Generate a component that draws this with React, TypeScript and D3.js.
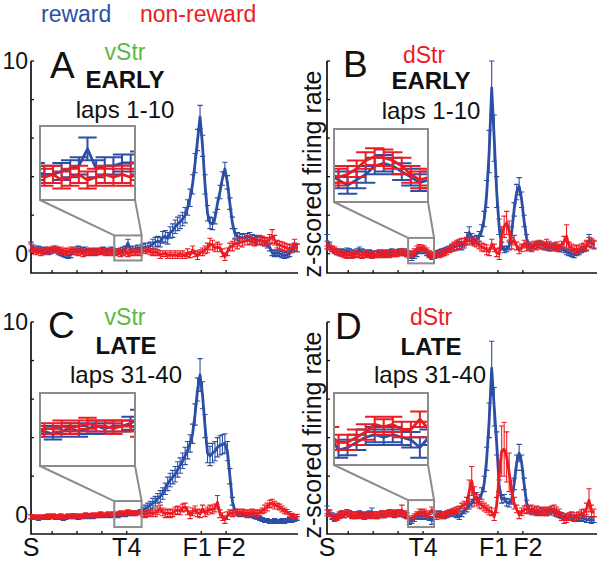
import React from 'react';
import * as d3 from 'd3';

const BLUE = '#2c4fa5';
const RED = '#ec1c24';
const GREEN = '#5ab946';
const GRAY = '#8c8c8c';
const FONT = '"Liberation Sans", Arial, Helvetica, sans-serif';

// spatial bins along the track, S ... end of lap
const nBins = 108;
const yTicks = [0, 2, 4, 6, 8, 10];
const yTickLabels = ['0', '10'];
const xTicks = [8.5, 18.5, 28.5, 38.5, 68.5, 78.5];
const xLabels = ['S', 'T4', 'F1', 'F2'];
const xLabelPos = [0, 38.5, 66.8, 80.5];
const legendLabels = ['reward', 'non-reward'];

// A: vStr, early laps 1-10
const vStrEarlyReward = [
  0.4, 0.3, 0.2, 0.25, 0.2, 0.15, 0.2, 0.1, 0.15, 0.2,
  0.25, 0.1, 0.05, 0.0, -0.05, -0.1, -0.05, 0.1, 0.2, 0.25,
  0.2, 0.15, 0.2, 0.1, 0.05, 0.1, 0.15, 0.1, 0.15, 0.2,
  0.15, 0.1, 0.2, 0.15, 0.1, 0.1, 0.15, 0.2, 0.25, 0.55,
  0.2, 0.25, 0.25, 0.3, 0.3, 0.3, 0.35, 0.35, 0.4, 0.5,
  0.6, 0.65, 0.6, 0.85, 0.9, 0.8, 1.1, 1.2, 1.4, 1.55,
  1.65, 1.8, 2.0, 2.4, 2.9, 3.6, 4.7, 5.9, 7.1, 5.6,
  3.6, 2.1, 1.6, 1.55, 1.85, 2.6, 3.2, 3.9, 4.4, 3.7,
  2.6, 1.6, 1.05, 0.9, 0.85, 0.8, 0.85, 0.85, 0.9, 0.8,
  0.75, 0.7, 0.7, 0.65, 0.6, 0.5, 0.35, 0.05, 0.0, 0.05,
  0.0, -0.05, -0.1, -0.05, 0.0, 0.2, 0.35, 0.3,
];
const vStrEarlyRewardErr = [
  0.2, 0.15, 0.15, 0.15, 0.15, 0.15, 0.15, 0.15, 0.15, 0.15,
  0.15, 0.15, 0.15, 0.15, 0.15, 0.15, 0.15, 0.15, 0.15, 0.15,
  0.15, 0.15, 0.15, 0.15, 0.15, 0.15, 0.15, 0.15, 0.15, 0.15,
  0.15, 0.15, 0.15, 0.15, 0.15, 0.15, 0.15, 0.15, 0.15, 0.2,
  0.15, 0.15, 0.15, 0.15, 0.15, 0.2, 0.2, 0.2, 0.2, 0.25,
  0.25, 0.25, 0.25, 0.3, 0.3, 0.3, 0.3, 0.35, 0.35, 0.35,
  0.35, 0.35, 0.4, 0.4, 0.45, 0.5, 0.5, 0.55, 0.6, 0.55,
  0.5, 0.4, 0.3, 0.3, 0.3, 0.3, 0.35, 0.35, 0.35, 0.35,
  0.3, 0.3, 0.25, 0.2, 0.2, 0.2, 0.2, 0.2, 0.2, 0.2,
  0.2, 0.2, 0.2, 0.2, 0.2, 0.2, 0.2, 0.15, 0.15, 0.15,
  0.15, 0.15, 0.15, 0.15, 0.15, 0.15, 0.2, 0.2,
];
const vStrEarlyNonReward = [
  0.3, 0.2, 0.1, 0.15, 0.05, 0.1, 0.15, 0.2, 0.15, 0.25,
  0.2, 0.15, 0.2, 0.1, 0.15, 0.1, 0.2, 0.15, 0.1, 0.05,
  0.1, 0.0, 0.05, 0.1, 0.15, 0.1, 0.05, 0.1, 0.15, 0.1,
  0.05, 0.1, 0.05, 0.1, 0.05, 0.1, 0.0, 0.05, 0.1, 0.0,
  0.05, 0.1, 0.05, 0.1, 0.05, 0.15, 0.15, 0.2, 0.1, 0.05,
  0.1, 0.05, -0.05, 0.0, 0.0, -0.1, -0.05, -0.1, -0.05, -0.1,
  0.0, -0.05, -0.1, 0.05, -0.05, 0.2, 0.0, -0.1, 0.05, 0.1,
  0.2, 0.3, 0.5, 0.45, 0.3, 0.35, 0.3, 0.05, -0.15, 0.1,
  0.35, 0.4, 0.55, 0.5, 0.6, 0.6, 0.65, 0.7, 0.7, 0.65,
  0.6, 0.65, 0.7, 0.7, 0.6, 0.65, 0.75, 0.9, 0.7, 0.5,
  0.45, 0.4, 0.35, 0.3, 0.25, 0.3, 0.5, 0.3,
];
const vStrEarlyNonRewardErr = [
  0.2, 0.15, 0.15, 0.15, 0.15, 0.15, 0.15, 0.15, 0.15, 0.15,
  0.15, 0.15, 0.15, 0.15, 0.15, 0.15, 0.15, 0.15, 0.15, 0.15,
  0.15, 0.15, 0.15, 0.15, 0.15, 0.15, 0.15, 0.15, 0.15, 0.15,
  0.15, 0.15, 0.15, 0.15, 0.15, 0.15, 0.15, 0.15, 0.15, 0.15,
  0.15, 0.15, 0.15, 0.15, 0.15, 0.15, 0.15, 0.15, 0.15, 0.15,
  0.15, 0.15, 0.2, 0.15, 0.15, 0.15, 0.2, 0.15, 0.2, 0.15,
  0.15, 0.2, 0.15, 0.2, 0.15, 0.2, 0.15, 0.2, 0.15, 0.2,
  0.2, 0.25, 0.3, 0.25, 0.2, 0.25, 0.2, 0.2, 0.2, 0.2,
  0.2, 0.25, 0.2, 0.25, 0.2, 0.25, 0.2, 0.25, 0.2, 0.2,
  0.2, 0.2, 0.25, 0.2, 0.2, 0.2, 0.25, 0.35, 0.25, 0.2,
  0.2, 0.2, 0.2, 0.2, 0.2, 0.2, 0.25, 0.2,
];

// B: dStr, early laps 1-10
const dStrEarlyReward = [
  0.7, 0.4, 0.25, 0.15, 0.1, 0.05, 0.1, 0.05, 0.15, 0.1,
  0.05, 0.0, 0.1, 0.2, 0.1, 0.05, 0.0, 0.05, 0.0, -0.05,
  0.0, 0.05, 0.0, -0.05, 0.0, 0.05, 0.1, 0.0, 0.05, 0.1,
  0.05, 0.1, 0.0, -0.1, -0.2, -0.1, 0.0, 0.15, 0.2, 0.15,
  0.05, -0.05, -0.15, -0.1, 0.0, 0.05, 0.1, 0.15, 0.2, 0.25,
  0.3, 0.35, 0.4, 0.45, 0.4, 0.55, 0.8, 1.1, 0.8, 0.7,
  0.75, 0.9, 1.2, 1.8, 3.1, 5.3, 8.6, 6.0, 3.2, 1.4,
  0.4, 0.2, 0.25, 0.4, 1.1, 2.3, 3.2, 3.5, 2.8, 1.7,
  0.8, 0.4, 0.3, 0.4, 0.5, 0.45, 0.5, 0.4, 0.35, 0.3,
  0.4, 0.35, 0.3, 0.25, 0.3, 0.2, 0.1, 0.05, 0.0, -0.05,
  0.05, 0.1, 0.2, 0.25, 0.4, 0.7, 0.55, 0.45,
];
const dStrEarlyRewardErr = [
  0.3, 0.2, 0.15, 0.15, 0.15, 0.15, 0.15, 0.15, 0.15, 0.15,
  0.15, 0.15, 0.15, 0.15, 0.15, 0.15, 0.15, 0.15, 0.15, 0.15,
  0.15, 0.15, 0.15, 0.15, 0.15, 0.15, 0.15, 0.15, 0.15, 0.15,
  0.15, 0.15, 0.15, 0.15, 0.15, 0.15, 0.15, 0.15, 0.15, 0.15,
  0.15, 0.15, 0.15, 0.15, 0.15, 0.15, 0.15, 0.15, 0.15, 0.15,
  0.15, 0.2, 0.2, 0.2, 0.2, 0.25, 0.3, 0.3, 0.25, 0.2,
  0.2, 0.25, 0.3, 0.4, 0.7, 1.1, 1.4, 1.2, 0.8, 0.4,
  0.2, 0.15, 0.15, 0.2, 0.3, 0.35, 0.4, 0.45, 0.4, 0.3,
  0.2, 0.15, 0.15, 0.15, 0.15, 0.15, 0.15, 0.15, 0.15, 0.15,
  0.15, 0.15, 0.15, 0.15, 0.15, 0.15, 0.15, 0.15, 0.15, 0.15,
  0.15, 0.15, 0.15, 0.15, 0.25, 0.3, 0.2, 0.2,
];
const dStrEarlyNonReward = [
  0.45, 0.35, 0.25, 0.2, 0.1, 0.05, 0.0, -0.05, -0.1, -0.05,
  -0.1, -0.05, 0.0, -0.05, -0.1, -0.05, 0.0, -0.05, -0.1, -0.05,
  0.0, -0.05, 0.0, 0.05, 0.0, -0.05, 0.0, 0.05, 0.0, 0.05,
  0.1, 0.05, 0.0, -0.05, 0.0, 0.1, 0.25, 0.32, 0.3, 0.25,
  0.15, 0.0, -0.1, -0.05, 0.0, -0.05, 0.0, 0.05, 0.1, 0.2,
  0.3, 0.4, 0.45, 0.5, 0.55, 0.6, 0.65, 0.7, 0.65, 0.6,
  0.55, 0.45, 0.35, 0.3, 0.2, 0.1, 0.5, 0.3, 0.05, 0.0,
  0.9, 1.4, 1.6, 1.2, 0.55, 0.7, 0.4, 0.2, 0.3, 0.5,
  0.35, 0.4, 0.3, 0.45, 0.4, 0.5, 0.45, 0.4, 0.55, 0.45,
  0.35, 0.35, 0.4, 0.3, 0.45, 0.6, 0.9, 0.4, 0.3, 0.2,
  0.25, 0.2, 0.3, 0.35, 0.45, 0.6, 0.55, 0.5,
];
const dStrEarlyNonRewardErr = [
  0.2, 0.15, 0.15, 0.15, 0.15, 0.15, 0.15, 0.15, 0.15, 0.15,
  0.15, 0.15, 0.15, 0.15, 0.15, 0.15, 0.15, 0.15, 0.15, 0.15,
  0.15, 0.15, 0.15, 0.15, 0.15, 0.15, 0.15, 0.15, 0.15, 0.15,
  0.15, 0.15, 0.15, 0.15, 0.15, 0.15, 0.15, 0.15, 0.15, 0.15,
  0.15, 0.15, 0.15, 0.15, 0.15, 0.15, 0.15, 0.15, 0.15, 0.15,
  0.2, 0.2, 0.25, 0.25, 0.25, 0.2, 0.2, 0.25, 0.2, 0.2,
  0.2, 0.2, 0.2, 0.2, 0.25, 0.2, 0.25, 0.2, 0.2, 0.3,
  0.5, 0.55, 0.6, 0.5, 0.3, 0.25, 0.2, 0.2, 0.2, 0.2,
  0.2, 0.2, 0.2, 0.2, 0.2, 0.2, 0.2, 0.2, 0.2, 0.2,
  0.2, 0.2, 0.2, 0.2, 0.2, 0.3, 0.6, 0.2, 0.2, 0.2,
  0.2, 0.2, 0.2, 0.2, 0.25, 0.25, 0.25, 0.2,
];

// C: vStr, late laps 31-40
const vStrLateReward = [
  -0.1, -0.15, -0.15, -0.2, -0.15, -0.15, -0.1, -0.15, -0.1, -0.1,
  -0.15, -0.1, -0.15, -0.2, -0.15, -0.1, -0.1, -0.05, -0.1, -0.15,
  -0.1, -0.1, -0.05, -0.1, -0.05, -0.1, -0.05, -0.05, 0.0, -0.05,
  -0.05, 0.0, -0.05, 0.0, 0.0, -0.05, 0.0, 0.05, 0.0, 0.05,
  0.1, 0.05, 0.1, 0.1, 0.15, 0.25, 0.3, 0.4, 0.5, 0.6,
  0.7, 0.85, 0.95, 1.1, 1.35, 1.6, 1.8, 1.95, 2.1, 2.35,
  2.55, 2.8, 3.05, 3.35, 3.7, 4.2, 5.2, 6.5, 7.25, 6.2,
  4.6, 3.2, 3.05, 3.2, 3.3, 3.5, 3.6, 3.65, 3.7, 3.3,
  2.0, 0.7, 0.2, 0.05, 0.0, 0.05, 0.0, -0.05, 0.0, -0.05,
  -0.1, -0.15, -0.2, -0.25, -0.3, -0.3, -0.35, -0.35, -0.3, -0.35,
  -0.35, -0.3, -0.35, -0.3, -0.25, -0.3, -0.25, -0.2,
];
const vStrLateRewardErr = [
  0.1, 0.1, 0.1, 0.1, 0.1, 0.1, 0.1, 0.1, 0.1, 0.1,
  0.1, 0.1, 0.1, 0.1, 0.1, 0.1, 0.1, 0.1, 0.1, 0.1,
  0.1, 0.1, 0.1, 0.1, 0.1, 0.1, 0.1, 0.1, 0.1, 0.1,
  0.1, 0.1, 0.1, 0.1, 0.1, 0.1, 0.1, 0.1, 0.1, 0.1,
  0.1, 0.1, 0.1, 0.1, 0.12, 0.15, 0.2, 0.2, 0.2, 0.25,
  0.25, 0.25, 0.3, 0.3, 0.3, 0.35, 0.35, 0.35, 0.4, 0.4,
  0.4, 0.4, 0.45, 0.45, 0.45, 0.5, 0.55, 0.6, 0.85, 0.7,
  0.6, 0.5, 0.5, 0.5, 0.5, 0.5, 0.5, 0.5, 0.5, 0.5,
  0.4, 0.2, 0.1, 0.1, 0.1, 0.1, 0.1, 0.1, 0.1, 0.1,
  0.1, 0.1, 0.1, 0.1, 0.1, 0.1, 0.1, 0.1, 0.1, 0.1,
  0.1, 0.1, 0.1, 0.1, 0.1, 0.1, 0.1, 0.1,
];
const vStrLateNonReward = [
  -0.1, -0.1, -0.15, -0.1, -0.15, -0.1, -0.1, -0.05, -0.1, -0.05,
  -0.1, -0.1, -0.05, -0.1, -0.1, -0.05, -0.05, -0.1, -0.05, -0.05,
  -0.1, -0.05, 0.0, -0.05, -0.05, 0.0, -0.05, 0.0, 0.05, 0.0,
  0.0, 0.05, 0.05, 0.0, 0.05, 0.05, 0.1, 0.05, 0.1, 0.15,
  0.1, 0.1, 0.05, 0.1, 0.1, 0.05, 0.0, 0.05, 0.1, 0.05,
  0.1, 0.2, 0.3, 0.15, 0.05, 0.1, 0.05, 0.1, 0.2, 0.25,
  0.2, 0.35, 0.4, 0.2, 0.0, 0.15, 0.25, 0.1, 0.05, 0.3,
  0.1, 0.2, 0.3, 0.25, 0.35, 0.65, 0.05, -0.1, -0.25, -0.05,
  0.1, 0.05, 0.1, 0.15, 0.1, 0.15, 0.1, 0.05, 0.1, 0.15,
  0.1, 0.05, 0.1, 0.2, 0.3, 0.4, 0.55, 0.6, 0.5, 0.45,
  0.4, 0.3, 0.2, 0.15, 0.05, -0.05, -0.1, -0.1,
];
const vStrLateNonRewardErr = [
  0.1, 0.1, 0.1, 0.1, 0.1, 0.1, 0.1, 0.1, 0.1, 0.1,
  0.1, 0.1, 0.1, 0.1, 0.1, 0.1, 0.1, 0.1, 0.1, 0.1,
  0.1, 0.1, 0.1, 0.1, 0.1, 0.1, 0.1, 0.1, 0.1, 0.1,
  0.1, 0.1, 0.1, 0.1, 0.1, 0.1, 0.1, 0.1, 0.1, 0.1,
  0.1, 0.1, 0.1, 0.1, 0.1, 0.15, 0.15, 0.15, 0.15, 0.15,
  0.2, 0.2, 0.2, 0.2, 0.2, 0.2, 0.2, 0.2, 0.2, 0.2,
  0.2, 0.2, 0.2, 0.2, 0.2, 0.2, 0.2, 0.2, 0.2, 0.2,
  0.2, 0.2, 0.2, 0.2, 0.2, 0.35, 0.2, 0.2, 0.2, 0.2,
  0.15, 0.15, 0.15, 0.15, 0.15, 0.15, 0.15, 0.15, 0.15, 0.15,
  0.15, 0.15, 0.15, 0.15, 0.2, 0.2, 0.2, 0.2, 0.2, 0.15,
  0.15, 0.15, 0.15, 0.12, 0.12, 0.12, 0.12, 0.12,
];

// D: dStr, late laps 31-40
const dStrLateReward = [
  0.25, 0.1, -0.05, -0.15, -0.1, 0.0, 0.05, 0.0, 0.1, 0.05,
  0.0, -0.05, 0.0, 0.05, 0.0, -0.05, 0.0, 0.05, 0.15, 0.0,
  -0.05, 0.0, 0.05, 0.0, 0.05, 0.1, 0.05, 0.0, 0.05, 0.1,
  0.05, 0.0, -0.05, -0.35, -0.3, -0.2, -0.1, -0.05, -0.1, -0.05,
  -0.1, -0.15, -0.3, -0.1, 0.0, 0.05, 0.0, -0.05, 0.0, 0.05,
  0.1, 0.05, 0.0, -0.1, 0.05, 0.2, 0.35, 0.5, 0.6, 0.85,
  0.9, 0.8, 1.1, 1.6, 2.9, 4.9, 7.6, 5.6, 3.7, 1.5,
  0.8, 0.85, 0.65, 0.6, 0.8, 1.6, 2.7, 3.2, 2.7, 1.6,
  0.6, 0.3, 0.15, 0.2, 0.1, 0.15, 0.2, 0.15, 0.1, 0.15,
  0.2, 0.1, 0.05, 0.0, -0.05, -0.1, -0.15, -0.1, -0.15, -0.2,
  -0.15, -0.2, -0.15, -0.2, -0.25, -0.25, -0.3, -0.25,
];
const dStrLateRewardErr = [
  0.2, 0.15, 0.15, 0.15, 0.15, 0.15, 0.15, 0.15, 0.15, 0.15,
  0.15, 0.15, 0.15, 0.15, 0.15, 0.15, 0.15, 0.15, 0.2, 0.15,
  0.15, 0.15, 0.15, 0.15, 0.15, 0.15, 0.15, 0.15, 0.15, 0.15,
  0.15, 0.15, 0.15, 0.15, 0.15, 0.15, 0.15, 0.15, 0.15, 0.15,
  0.15, 0.15, 0.2, 0.15, 0.15, 0.15, 0.15, 0.15, 0.15, 0.15,
  0.15, 0.15, 0.15, 0.15, 0.15, 0.15, 0.2, 0.2, 0.2, 0.25,
  0.25, 0.25, 0.3, 0.4, 0.6, 0.9, 1.4, 1.0, 0.6, 0.3,
  0.2, 0.2, 0.2, 0.2, 0.25, 0.3, 0.4, 0.45, 0.4, 0.3,
  0.15, 0.15, 0.15, 0.15, 0.15, 0.15, 0.15, 0.15, 0.15, 0.15,
  0.15, 0.15, 0.15, 0.15, 0.15, 0.15, 0.15, 0.15, 0.15, 0.15,
  0.15, 0.15, 0.15, 0.15, 0.15, 0.15, 0.15, 0.15,
];
const dStrLateNonReward = [
  0.1, 0.05, -0.1, -0.2, -0.15, -0.05, 0.05, 0.0, 0.1, 0.05,
  -0.05, 0.0, -0.05, 0.0, -0.05, -0.1, -0.05, 0.0, -0.05, 0.0,
  -0.05, 0.0, 0.05, 0.0, 0.05, 0.1, 0.05, 0.1, 0.05, 0.1,
  0.25, 0.05, -0.05, -0.2, -0.2, -0.1, 0.0, 0.15, 0.1, 0.15,
  0.05, 0.05, 0.25, 0.05, -0.1, 0.0, -0.05, 0.0, 0.05, 0.1,
  0.15, 0.2, 0.25, 0.3, 0.45, 0.5, 0.6, 1.2, 1.75, 0.95,
  0.75, 0.6, 0.5, 0.4, 0.3, 0.2, 0.15, -0.1, 0.5, 2.0,
  3.3, 3.4, 3.0, 2.2, 1.2, 0.6, 0.3, 0.0, 0.15, 0.25,
  0.3, 0.25, 0.3, 0.2, 0.25, 0.2, 0.15, 0.2, 0.15, 0.2,
  0.25, 0.3, 0.2, 0.1, -0.1, -0.25, -0.2, -0.1, -0.05, -0.1,
  -0.05, 0.0, 0.05, 0.1, 0.3, 0.75, 0.2, 0.1,
];
const dStrLateNonRewardErr = [
  0.15, 0.15, 0.15, 0.15, 0.15, 0.15, 0.15, 0.15, 0.15, 0.15,
  0.15, 0.15, 0.15, 0.15, 0.15, 0.15, 0.15, 0.15, 0.15, 0.15,
  0.15, 0.15, 0.15, 0.15, 0.15, 0.15, 0.15, 0.15, 0.15, 0.15,
  0.25, 0.15, 0.15, 0.15, 0.15, 0.15, 0.15, 0.15, 0.15, 0.15,
  0.15, 0.15, 0.15, 0.15, 0.15, 0.15, 0.15, 0.15, 0.15, 0.15,
  0.15, 0.15, 0.15, 0.15, 0.15, 0.2, 0.3, 0.6, 0.75, 0.5,
  0.3, 0.25, 0.2, 0.2, 0.2, 0.2, 0.2, 0.2, 0.4, 0.8,
  1.3, 1.4, 1.3, 1.0, 0.6, 0.3, 0.2, 0.2, 0.2, 0.2,
  0.2, 0.2, 0.2, 0.2, 0.2, 0.2, 0.2, 0.2, 0.2, 0.2,
  0.2, 0.2, 0.2, 0.2, 0.2, 0.2, 0.2, 0.2, 0.2, 0.2,
  0.15, 0.15, 0.2, 0.2, 0.3, 0.6, 0.3, 0.2,
];

// zoom windows of the insets: [first bin, last bin, low z, high z]
const insetA = [33.5, 44.5, -0.35, 0.95];
const insetB = [32.5, 42.9, -0.5, 0.82];
const insetC = [33.5, 44.5, -0.64, 0.71];
const insetD = [32.5, 42.9, -0.64, 0.76];

const CAP = 1.07; // errorbar tee half width, in bins
const H = 212;

const panels = [
  {
    id: 'A', region: 'vStr', regionColor: GREEN, phase: 'EARLY', laps: 'laps 1-10',
    reward: vStrEarlyReward, rewardErr: vStrEarlyRewardErr,
    non: vStrEarlyNonReward, nonErr: vStrEarlyNonRewardErr,
    left: 31, top: 61, width: 266, axisEnd: 298, win: insetA, box: [40, 126, 95, 74],
    yNums: true, yTitle: false, xLab: false,
    pos: { letter: [50, 78], region: [125, 60], phase: [125, 88], laps: [125, 118] },
  },
  {
    id: 'B', region: 'dStr', regionColor: RED, phase: 'EARLY', laps: 'laps 1-10',
    reward: dStrEarlyReward, rewardErr: dStrEarlyRewardErr,
    non: dStrEarlyNonReward, nonErr: dStrEarlyNonRewardErr,
    left: 327, top: 61, width: 267, axisEnd: 597, win: insetB, box: [334, 129, 94, 73],
    yNums: false, yTitle: true, xLab: false,
    pos: { letter: [343, 77], region: [424, 63], phase: [431, 89], laps: [431, 119] },
  },
  {
    id: 'C', region: 'vStr', regionColor: GREEN, phase: 'LATE', laps: 'laps 31-40',
    reward: vStrLateReward, rewardErr: vStrLateRewardErr,
    non: vStrLateNonReward, nonErr: vStrLateNonRewardErr,
    left: 31, top: 322, width: 266, axisEnd: 298, win: insetC, box: [40, 393, 95, 73],
    yNums: true, yTitle: false, xLab: true,
    pos: { letter: [48, 338], region: [125, 325], phase: [126, 354], laps: [126, 383] },
  },
  {
    id: 'D', region: 'dStr', regionColor: RED, phase: 'LATE', laps: 'laps 31-40',
    reward: dStrLateReward, rewardErr: dStrLateRewardErr,
    non: dStrLateNonReward, nonErr: dStrLateNonRewardErr,
    left: 327, top: 322, width: 267, axisEnd: 597, win: insetD, box: [334, 393, 94, 72],
    yNums: false, yTitle: true, xLab: true,
    pos: { letter: [335, 339], region: [431, 325], phase: [431, 355], laps: [430, 383] },
  },
];

type Scale = d3.ScaleLinear<number, number>;

function errPath(mean: number[], err: number[], xs: Scale, ys: Scale, idx: number[]) {
  let d = '';
  idx.forEach((i) => {
    const x = xs(i);
    const lo = ys(mean[i] - err[i]);
    const hi = ys(mean[i] + err[i]);
    const c0 = xs(i - CAP);
    const c1 = xs(i + CAP);
    d += `M${x},${lo}V${hi}M${c0},${hi}H${c1}M${c0},${lo}H${c1}`;
  });
  return d;
}

function Series({ mean, err, color, xs, ys, idx, lw, ew }: any) {
  const line = d3.line<number>().x((i) => xs(i)).y((i) => ys(mean[i]));
  return (
    <g>
      <path d={errPath(mean, err, xs, ys, idx)} stroke={color} strokeWidth={ew} fill="none" />
      <path d={line(idx) || ''} stroke={color} strokeWidth={lw} fill="none" strokeLinejoin="round" />
    </g>
  );
}

function Panel({ p }: any) {
  const all = d3.range(nBins);
  const x = d3.scaleLinear().domain([0, nBins - 1]).range([p.left, p.left + p.width]);
  const y = d3.scaleLinear().domain([-1, 10]).range([p.top + H, p.top]);
  const bottom = p.top + H;

  const [i0, i1, v0, v1] = p.win;
  const [bx, by, bw, bh] = p.box;
  const ix = d3.scaleLinear().domain([i0, i1]).range([bx, bx + bw]);
  const iy = d3.scaleLinear().domain([v0, v1]).range([by + bh, by]);
  const inIdx = all.filter((i) => i >= i0 - 1.5 && i <= i1 + 1.5);
  const sx0 = x(i0);
  const sx1 = x(i1);
  const sy0 = y(v1);
  const sy1 = y(v0);
  const clipId = `clip-${p.id}`;

  return (
    <g>
      <defs>
        <clipPath id={clipId}>
          <rect x={bx} y={by} width={bw} height={bh} />
        </clipPath>
      </defs>

      {/* axes */}
      <path d={`M${p.left},${p.top}V${bottom}H${p.axisEnd}`} stroke="#111" strokeWidth={1.7} fill="none" />
      {yTicks.map((t) => (
        <line key={`yt${t}`} x1={p.left} x2={p.left + 3} y1={y(t)} y2={y(t)} stroke="#111" strokeWidth={1.3} />
      ))}
      {xTicks.map((t) => (
        <line key={`xt${t}`} x1={x(t)} x2={x(t)} y1={bottom} y2={bottom - 3} stroke="#111" strokeWidth={1.3} />
      ))}
      {p.yNums &&
        yTickLabels.map((l) => (
          <text key={l} x={p.left - 3} y={y(+l) + 8} textAnchor="end" fontSize={23} fontFamily={FONT} fill="#111">
            {l}
          </text>
        ))}
      {p.xLab &&
        xLabels.map((l, k) => (
          <text key={l} x={x(xLabelPos[k])} y={bottom + 22} textAnchor="middle" fontSize={25} fontFamily={FONT} fill="#111">
            {l}
          </text>
        ))}
      {p.yTitle && (
        <text
          transform={`translate(${p.left - 6},${p.top + H / 2 + 7}) rotate(-90)`}
          textAnchor="middle" fontSize={25} fontFamily={FONT} fill="#111"
        >
          z-scored firing rate
        </text>
      )}

      {/* data */}
      <Series mean={p.reward} err={p.rewardErr} color={BLUE} xs={x} ys={y} idx={all} lw={2.8} ew={1.1} />
      <Series mean={p.non} err={p.nonErr} color={RED} xs={x} ys={y} idx={all} lw={2.8} ew={1.1} />

      {/* inset */}
      <rect x={sx0} y={sy0} width={sx1 - sx0} height={sy1 - sy0} fill="none" stroke={GRAY} strokeWidth={2} />
      <line x1={bx} y1={by + bh} x2={sx0} y2={sy0} stroke={GRAY} strokeWidth={2} />
      <line x1={bx + bw} y1={by + bh} x2={sx1} y2={sy0} stroke={GRAY} strokeWidth={2} />
      <rect x={bx} y={by} width={bw} height={bh} fill="#fff" />
      <g clipPath={`url(#${clipId})`}>
        <Series mean={p.reward} err={p.rewardErr} color={BLUE} xs={ix} ys={iy} idx={inIdx} lw={2.8} ew={2} />
        <Series mean={p.non} err={p.nonErr} color={RED} xs={ix} ys={iy} idx={inIdx} lw={2.8} ew={2} />
      </g>
      <rect x={bx} y={by} width={bw} height={bh} fill="none" stroke={GRAY} strokeWidth={2} />

      {/* labels */}
      <text x={p.pos.letter[0]} y={p.pos.letter[1]} fontSize={37} fontFamily={FONT} fill="#111">{p.id}</text>
      <text x={p.pos.region[0]} y={p.pos.region[1]} textAnchor="middle" fontSize={23} fontFamily={FONT} fill={p.regionColor}>
        {p.region}
      </text>
      <text x={p.pos.phase[0]} y={p.pos.phase[1]} textAnchor="middle" fontSize={24} fontWeight="bold" fontFamily={FONT} fill="#111">
        {p.phase}
      </text>
      <text x={p.pos.laps[0]} y={p.pos.laps[1]} textAnchor="middle" fontSize={24} fontFamily={FONT} fill="#111">
        {p.laps}
      </text>
    </g>
  );
}

export default function App() {
  return (
    <svg width={600} height={561} style={{ position: 'absolute', left: 0, top: 0, background: '#fff' }}>
      <text x={41} y={22} fontSize={23} fontFamily={FONT} fill={BLUE}>{legendLabels[0]}</text>
      <text x={140} y={22} fontSize={23} fontFamily={FONT} fill={RED}>{legendLabels[1]}</text>
      {panels.map((p) => (
        <Panel key={p.id} p={p} />
      ))}
    </svg>
  );
}
